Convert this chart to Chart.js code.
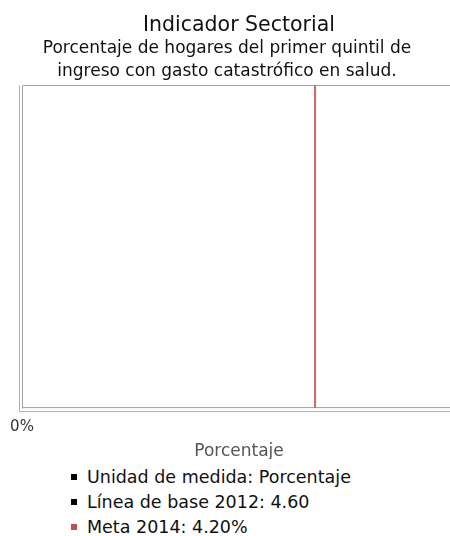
<!DOCTYPE html>
<html>
<head>
<meta charset="utf-8">
<script src="https://cdn.jsdelivr.net/npm/chart.js@4/dist/chart.umd.min.js"></script>
<style>
  html, body { margin: 0; padding: 0; background: #fff; overflow: hidden; width: 450px; height: 536px; }
  #wrap { position: relative; width: 460px; height: 536px; }
  canvas { display: block; }
  #sub { position: absolute; left: 0; top: 35.5px; width: 454px; text-align: center;
    font-family: "DejaVu Sans", sans-serif; font-size: 17px; line-height: 23px; color: #111; white-space: nowrap; }
  ul.legend { list-style: none; margin: 0; padding: 0; position: absolute; left: 70px; top: 465px;
    font-family: "DejaVu Sans", sans-serif; font-size: 17.5px; color: #111; }
  ul.legend li { height: 25px; line-height: 25px; white-space: nowrap; }
  ul.legend li span.m { display: inline-block; width: 6px; height: 6px; margin: 0 10px 3px 1px; vertical-align: middle; }
</style>
</head>
<body>
<div id="wrap">
  <canvas id="c" width="460" height="459"></canvas>
  <div id="sub"></div>
  <ul class="legend" id="legend"></ul>
</div>
<script>
const titleText = "Indicador Sectorial";
const subtitleLines = ["Porcentaje de hogares del primer quintil de", "ingreso con gasto catastrófico en salud."];
const axisTitle = "Porcentaje";
const unidad = "Porcentaje";
const baseYear = 2012;
const baseValue = 4.60;
const metaYear = 2014;
const metaValue = 4.20;
const xTicks = [0];
const xMax = 6.22;

const sub = document.getElementById('sub');
subtitleLines.forEach((t, i) => {
  if (i) sub.appendChild(document.createElement('br'));
  sub.appendChild(document.createTextNode(t));
});

const legendItems = [
  { text: "Unidad de medida: " + unidad, color: "#000" },
  { text: "Línea de base " + baseYear + ": " + baseValue.toFixed(2), color: "#000" },
  { text: "Meta " + metaYear + ": " + metaValue.toFixed(2) + "%", color: "#c0504d" }
];
const ul = document.getElementById('legend');
legendItems.forEach(it => {
  const li = document.createElement('li');
  const m = document.createElement('span'); m.className = 'm'; m.style.background = it.color;
  li.appendChild(m); li.appendChild(document.createTextNode(it.text));
  ul.appendChild(li);
});

const framePlugin = {
  id: 'frame',
  beforeDatasetsDraw(chart) {
    const { ctx, chartArea: a } = chart;
    ctx.save();
    ctx.strokeStyle = '#a0a0a0';
    ctx.lineWidth = 1;
    ctx.beginPath();
    ctx.moveTo(a.left + 0.5, a.bottom + 0.5);
    ctx.lineTo(a.left + 0.5, a.top + 0.5);
    ctx.lineTo(a.right + 0.5, a.top + 0.5);
    ctx.moveTo(a.left + 0.5, a.bottom - 0.5);
    ctx.lineTo(a.right + 0.5, a.bottom - 0.5);
    ctx.stroke();
    ctx.strokeStyle = '#b0b0b0';
    ctx.beginPath();
    ctx.moveTo(a.left - 2.5, a.top + 0.5);
    ctx.lineTo(a.left - 2.5, a.bottom + 3.5);
    ctx.moveTo(a.left - 2.5, a.bottom + 3.5);
    ctx.lineTo(a.right + 0.5, a.bottom + 3.5);
    ctx.stroke();
    ctx.restore();
  }
};

new Chart(document.getElementById('c'), {
  type: 'scatter',
  data: {
    datasets: [{
      label: 'Meta',
      data: [{ x: metaValue, y: 0 }, { x: metaValue, y: 1 }],
      showLine: true,
      borderColor: '#d06666',
      borderWidth: 2,
      pointRadius: 0
    }]
  },
  plugins: [framePlugin],
  options: {
    responsive: false,
    devicePixelRatio: 1,
    animation: false,
    layout: { padding: { left: 22, right: 4, top: 0, bottom: 0 } },
    plugins: {
      legend: { display: false },
      tooltip: { enabled: false },
      title: {
        display: true, text: titleText, color: '#111',
        font: { family: "DejaVu Sans", size: 20.5, weight: 'normal', lineHeight: 1.2 },
        padding: { top: 13, bottom: 47.4 }
      },
      subtitle: { display: false }
    },
    scales: {
      x: {
        type: 'linear', min: 0, max: xMax,
        grid: { display: false, drawTicks: false },
        border: { display: false },
        afterBuildTicks: s => { s.ticks = xTicks.map(v => ({ value: v })); },
        ticks: { color: '#333', padding: 10, font: { family: "DejaVu Sans", size: 15 }, callback: v => v + '%' },
        title: { display: true, text: axisTitle, color: '#555', padding: { top: 0, bottom: 1 },
          font: { family: "DejaVu Sans", size: 17, lineHeight: 0.7 } }
      },
      y: { type: 'linear', min: 0, max: 1, display: false }
    }
  }
});
</script>
</body>
</html>
